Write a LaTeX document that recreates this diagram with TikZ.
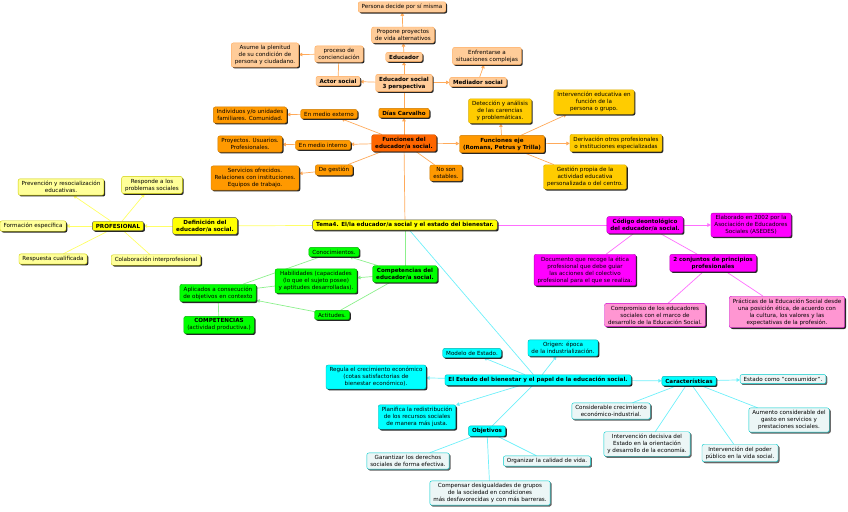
\documentclass[tikz,border=0pt]{standalone}
\usepackage{fontspec}
\setmainfont{DejaVu Sans}
\usepackage{tikz}
\usetikzlibrary{arrows.meta,shadows,backgrounds}
\definecolor{peach}{RGB}{255,204,153}
\definecolor{peachline}{RGB}{255,170,90}
\definecolor{orng}{RGB}{255,153,0}
\definecolor{orngdark}{RGB}{255,102,0}
\definecolor{gold}{RGB}{255,204,0}
\definecolor{lyel}{RGB}{255,255,153}
\definecolor{yel}{RGB}{255,255,0}
\definecolor{grn}{RGB}{0,255,0}
\definecolor{grnline}{RGB}{140,240,140}
\definecolor{mag}{RGB}{255,0,255}
\definecolor{magline}{RGB}{255,110,255}
\definecolor{pink}{RGB}{255,150,210}
\definecolor{cyn}{RGB}{0,255,255}
\definecolor{cynline}{RGB}{110,240,250}
\definecolor{lcyn}{RGB}{236,246,246}
\tikzset{
  box/.style={rectangle,rounded corners=2pt,draw=black!70,align=center,text=black,
              font=\fontsize{5.6}{7}\selectfont,inner xsep=3.5pt,inner ysep=2.4pt,
              drop shadow={shadow xshift=1.3pt,shadow yshift=-1.3pt,fill=black!85,opacity=1}},
  bf/.style={font=\fontsize{5.6}{7}\selectfont\bfseries},
  pbox/.style={box,fill=peach,draw=peachline},
  obox/.style={box,fill=orng,draw=orng!80!black},
  fbox/.style={box,fill=orngdark,draw=orngdark!80!black},
  gdbox/.style={box,fill=gold,draw=gold!85!black},
  lybox/.style={box,fill=lyel,draw=yel!80!black},
  ybox/.style={box,fill=yel,draw=black!70},
  gbox/.style={box,fill=grn,draw=grn!70!black},
  mbox/.style={box,fill=mag,draw=mag!70!black},
  pkbox/.style={box,fill=pink,draw=mag!80!black},
  cbox/.style={box,fill=cyn,draw=cyn!70!black},
  lcbox/.style={box,fill=lcyn,draw=cyn!80!black,
                drop shadow={shadow xshift=1.3pt,shadow yshift=-1.3pt,fill=black!60,opacity=1}},
  tip/.style={-{Triangle[length=3.4pt,width=3.6pt]}},
  ol/.style={draw=peachline,line width=0.7pt},
  yl/.style={draw=yel!60,line width=0.7pt},
  gl/.style={draw=grnline,line width=0.7pt},
  ml/.style={draw=magline,line width=0.7pt},
  cl/.style={draw=cynline,line width=0.7pt},
}
\begin{document}
\begin{tikzpicture}[x=1pt,y=-1pt]
  \useasboundingbox (0,0) rectangle (848,511);
  % centre
  \node[ybox,bf] (tema) at (405,225) {Tema4. El/la educador/a social y el estado del bienestar.};
  % orange branch
  \node[pbox] (pers) at (402,7) {Persona decide por sí misma};
  \node[pbox] (prop) at (403,35) {Propone proyectos\\de vida alternativos};
  \node[pbox,bf] (educ) at (404,57) {Educador};
  \node[pbox] (asume) at (265,55) {Asume la plenitud\\de su condición de\\persona y ciudadano.};
  \node[pbox] (proc) at (339,54) {proceso de\\concienciación};
  \node[pbox] (enfr) at (487,56) {Enfrentarse a\\situaciones complejas};
  \node[pbox,bf] (actor) at (338,81) {Actor social};
  \node[pbox,bf] (edsoc) at (404,83) {Educador social\\3 perspectiva};
  \node[pbox,bf] (medi) at (478,82) {Mediador social};
  \node[obox,bf] (dias) at (404,113) {Días Carvalho};
  \node[obox] (indiv) at (250,115) {Individuos y/o unidades\\familiares. Comunidad.};
  \node[obox] (medext) at (329,114) {En medio externo};
  \node[obox] (proy) at (250,144) {Proyectos. Usuarios.\\Profesionales.};
  \node[obox] (medint) at (323,145) {En medio interno};
  \node[obox] (serv) at (255,178) {Servicios ofrecidos.\\Relaciones con instituciones.\\Equipos de trabajo.};
  \node[obox] (gest) at (334,170) {De gestión};
  \node[fbox,bf] (func) at (404,143) {Funciones del\\educador/a social.};
  \node[obox] (noson) at (446,173) {No son\\estables.};
  \node[obox,bf] (feje) at (502,144) {Funciones eje\\(Romans, Petrus y Trilla)};
  \node[gdbox] (detec) at (500,111) {Detección y análisis\\de las carencias\\y problemáticas.};
  \node[gdbox] (interv) at (594,102) {Intervención educativa en\\función de la\\persona o grupo.};
  \node[gdbox] (deriv) at (616,143) {Derivación otros profesionales\\o instituciones especializadas};
  \node[gdbox] (gestp) at (585,177) {Gestión propia de la\\actividad educativa\\personalizada o del centro.};
  % yellow branch
  \node[lybox] (prev) at (61,187) {Prevención y resocialización\\educativas.};
  \node[lybox] (resp) at (152,185) {Responde a los\\problemas sociales};
  \node[lybox] (forma) at (33,226) {Formación específica};
  \node[ybox,bf] (prof) at (118,226) {PROFESIONAL};
  \node[ybox,bf] (defin) at (205,226) {Definición del\\educador/a social.};
  \node[lybox] (respc) at (53,259) {Respuesta cualificada};
  \node[lybox] (colab) at (156,260) {Colaboración interprofesional};
  % green branch
  \node[gbox] (conoc) at (334,252) {Conocimientos.};
  \node[gbox] (habil) at (316,281) {Habilidades (capacidades\\(lo que el sujeto posee)\\y aptitudes desarrolladas).};
  \node[gbox,bf] (compe) at (405,274) {Competencias del\\educador/a social.};
  \node[gbox] (aplic) at (218,293) {Aplicados a consecución\\de objetivos en contexto};
  \node[gbox] (actit) at (332,315) {Actitudes.};
  \node[gbox] (comps) at (219,325) {{\bfseries COMPETENCIAS}\\(actividad productiva.)};
  % magenta branch
  \node[mbox,bf] (codigo) at (645,225) {Código deontológico\\del educador/a social.};
  \node[mbox] (elab) at (751,225) {Elaborado en 2002 por la\\Asociación de Educadores\\Sociales (ASEDES)};
  \node[mbox] (docu) at (585,270) {Documento que recoge la ética\\profesional que debe guiar\\las acciones del colectivo\\profesional para el que se realiza.};
  \node[mbox,bf] (conj) at (713,263) {2 conjuntos de principios\\profesionales};
  \node[pkbox] (compr) at (655,315) {Compromiso de los educadores\\sociales con el marco de\\desarrollo de la Educación Social.};
  \node[pkbox] (pract) at (787,312) {Prácticas de la Educación Social desde\\una posición ética, de acuerdo con\\la cultura, los valores y las\\expectativas de la profesión.};
  % cyan branch
  \node[cbox] (modelo) at (472,353) {Modelo de Estado.};
  \node[cbox] (orig) at (563,348) {Origen: época\\de la industrialización.};
  \node[cbox] (regula) at (376,377) {Regula el crecimiento económico\\(cotas satisfactorias de\\bienestar económico).};
  \node[cbox,bf] (estado) at (538,380) {El Estado del bienestar y el papel de la educación social.};
  \node[cbox,bf] (caract) at (689,381) {Características};
  \node[lcbox] (consum) at (783,379) {Estado como "consumidor".};
  \node[cbox] (planif) at (417,417) {Planifica la redistribución\\de los recursos sociales\\de manera más justa.};
  \node[cbox,bf] (objet) at (487,431) {Objetivos};
  \node[lcbox] (consid) at (611,411) {Considerable crecimiento\\económico-industrial.};
  \node[lcbox] (aumento) at (789,420) {Aumento considerable del\\gasto en servicios y\\prestaciones sociales.};
  \node[lcbox] (intdec) at (647,444) {Intervención decisiva del\\Estado en la orientación\\y desarrollo de la economía.};
  \node[lcbox] (intpod) at (740,453) {Intervención del poder\\público en la vida social.};
  \node[lcbox] (garant) at (408,461) {Garantizar los derechos\\sociales de forma efectiva.};
  \node[lcbox] (organ) at (547,461) {Organizar la calidad de vida.};
  \node[lcbox] (compen) at (490,493) {Compensar desigualdades de grupos\\de la sociedad en condiciones\\más desfavorecidas y con más barreras.};

  \begin{scope}[on background layer]
    % orange connectors
    \draw[ol,tip] (edsoc) -- (educ);
    \draw[ol,tip] (educ) -- (prop);
    \draw[ol,tip] (prop) -- (pers);
    \draw[ol,tip] (edsoc) -- (actor);
    \draw[ol] (actor) -- (proc);
    \draw[ol,tip] (proc) -- (asume);
    \draw[ol,tip] (edsoc) -- (medi);
    \draw[ol,tip] (medi) -- (enfr);
    \draw[ol] (dias) -- (edsoc);
    \draw[ol,tip] (func) -- (dias);
    \draw[ol,tip] (func) -- (medext);
    \draw[ol,tip] (medext) -- (indiv);
    \draw[ol,tip] (func) -- (medint);
    \draw[ol,tip] (medint) -- (proy);
    \draw[ol] (func) -- (gest);
    \draw[ol,tip] (gest) -- (serv);
    \draw[ol] (func) -- (noson);
    \draw[ol,tip] (func) -- (feje);
    \draw[ol,tip] (feje) -- (detec);
    \draw[ol,tip] (feje) -- (interv);
    \draw[ol,tip] (feje) -- (deriv);
    \draw[ol] (feje) -- (gestp);
    \draw[ol] (tema) -- (func);
    % yellow connectors
    \draw[yl] (tema) -- (defin);
    \draw[yl,tip] (defin) -- (prof);
    \draw[yl,tip] (prof) -- (prev);
    \draw[yl,tip] (prof) -- (resp);
    \draw[yl,tip] (prof) -- (forma);
    \draw[yl] (prof) -- (respc);
    \draw[yl] (prof) -- (colab);
    % green connectors
    \draw[gl] (tema) -- (compe);
    \draw[gl,tip] (compe) -- (conoc);
    \draw[gl,tip] (compe) -- (habil);
    \draw[gl] (compe) -- (actit);
    \draw[gl,tip] (actit) -- (aplic);
    \draw[gl] (habil) -- (aplic);
    \draw[gl] (conoc) -- (aplic);
    \draw[gl] (aplic) -- (comps);
    % magenta connectors
    \draw[ml] (tema) -- (codigo);
    \draw[ml,tip] (codigo) -- (elab);
    \draw[ml] (codigo) -- (docu);
    \draw[ml] (codigo) -- (conj);
    \draw[ml] (conj) -- (compr);
    \draw[ml] (conj) -- (pract);
    % cyan connectors
    \draw[cl] (tema) -- (estado);
    \draw[cl,tip] (estado) -- (modelo);
    \draw[cl,tip] (estado) -- (orig);
    \draw[cl,tip] (estado) -- (regula);
    \draw[cl,tip] (estado) -- (planif);
    \draw[cl] (estado) -- (objet);
    \draw[cl,tip] (estado) -- (caract);
    \draw[cl,tip] (caract) -- (consum);
    \draw[cl] (caract) -- (consid);
    \draw[cl] (caract) -- (intdec);
    \draw[cl] (caract) -- (intpod);
    \draw[cl] (caract) -- (aumento);
    \draw[cl] (objet) -- (garant);
    \draw[cl] (objet) -- (organ);
    \draw[cl] (objet) -- (compen);
  \end{scope}
\end{tikzpicture}
\end{document}
